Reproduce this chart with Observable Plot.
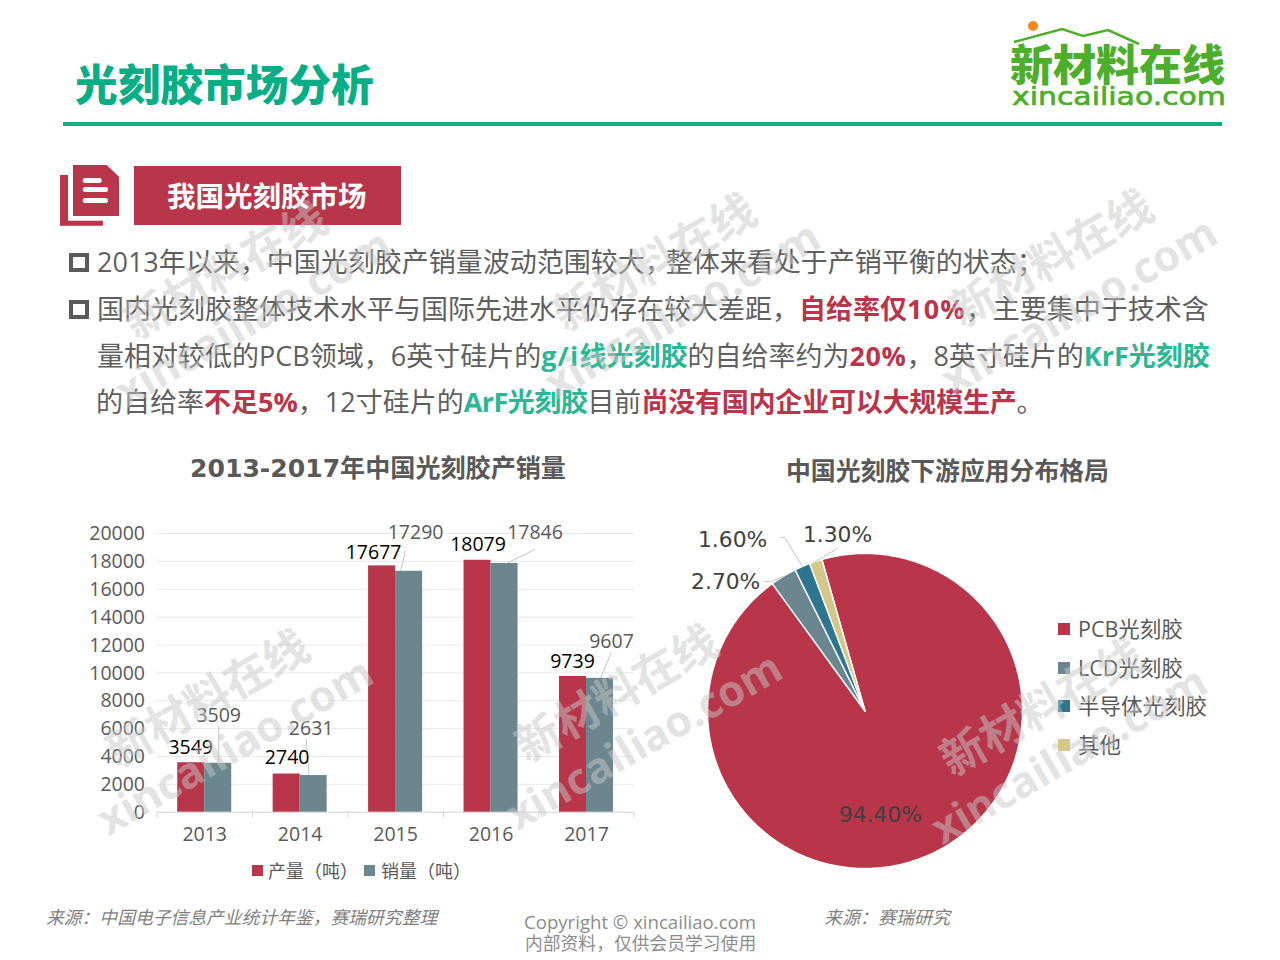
<!DOCTYPE html>
<html lang="zh">
<head>
<meta charset="utf-8">
<script src="https://cdn.jsdelivr.net/npm/d3@7"></script>
<script src="https://cdn.jsdelivr.net/npm/@observablehq/plot@0.6"></script>
<style>
html,body{margin:0;padding:0;background:#fff;}
#page{position:relative;width:1280px;height:960px;overflow:hidden;background:#fff;font-family:"Open Sans","Noto Sans CJK SC",sans-serif;color:#595959;}
.abs{position:absolute;white-space:nowrap;}
.line{position:absolute;left:97px;white-space:nowrap;font-size:27px;line-height:40px;color:#5f5f5f;}
.r{color:#b8354a;font-weight:700;}
.g{color:#2bb795;font-weight:700;}
.ls{letter-spacing:1.2px;}
.cc{letter-spacing:-6px;}
.bullet{position:absolute;left:69px;width:12px;height:11px;border:4px solid #595959;}
.sq{position:absolute;width:12px;height:12px;}
.wm{position:absolute;transform:translate(-50%,-50%) rotate(-30deg);text-align:center;white-space:nowrap;color:rgba(200,200,200,.5);font-weight:700;pointer-events:none;z-index:20;}
.wm div{line-height:57px;}
.wm .a{font-size:45px;font-family:"Noto Sans CJK SC";}
.wm .b{font-size:43px;font-family:"Open Sans";}
.plotbox{position:absolute;}
</style>
</head>
<body>
<div id="page">
  <div class="abs" style="left:75px;top:52px;font-size:42.7px;line-height:60px;font-weight:900;color:#05ae85;font-family:'Noto Sans CJK SC';">光刻胶市场分析</div>
  <div class="abs" style="left:63px;top:122px;width:1159px;height:3.5px;background:#0fae88;"></div>

  <svg class="abs" style="left:1000px;top:15px" width="240" height="100" viewBox="0 0 240 100">
    <circle cx="33" cy="11" r="5" fill="#f08a1d"/>
    <path d="M14 27 L62 14 L83 21 L108 15 L139 29" fill="none" stroke="#4cae2a" stroke-width="2.5"/>
    <text x="10" y="66" font-size="43" font-weight="900" fill="#4cae2a" font-family="Noto Sans CJK SC">新材料在线</text>
    <text x="12" y="90" font-size="25" font-weight="400" fill="#4cae2a" stroke="#4cae2a" stroke-width="0.7" font-family="DejaVu Sans" textLength="214" lengthAdjust="spacingAndGlyphs">xincailiao.com</text>
  </svg>

  <svg class="abs" style="left:58px;top:162px" width="66" height="66" viewBox="0 0 66 66">
    <path d="M15 3 H48.7 L61 14.7 V54 H15 Z" fill="#b8354a"/>
    <path d="M2 13 H10 V58.7 H45 V63.7 H2 Z" fill="#b8354a"/>
    <rect x="24.7" y="16" width="19" height="5" rx="2.5" fill="#fff"/>
    <rect x="24.7" y="25" width="25.3" height="5" rx="2.5" fill="#fff"/>
    <rect x="24.7" y="36" width="25.3" height="5" rx="2.5" fill="#fff"/>
  </svg>
  <div class="abs" style="left:134px;top:166px;width:267px;height:59px;background:#b8354a;"></div>
  <div class="abs" style="left:167px;top:174.5px;font-size:28.5px;line-height:40px;font-weight:700;color:#fff;font-family:'Noto Sans CJK SC';">我国光刻胶市场</div>

  <div class="bullet" style="top:253px"></div>
  <div class="bullet" style="top:300px"></div>
  <div class="line" style="top:242px">2013年以来，中国光刻胶产销量波动范围较大<span class="cc">，</span>整体来看处于产销平衡的状态；</div>
  <div class="line" style="top:289px">国内光刻胶整体技术水平与国际先进水平仍存在较大差距，<span class="r">自给率仅<span class="ls">10%</span></span>，主要集中于技术含</div>
  <div class="line" style="top:336px">量相对较低的PCB领域，6英寸硅片的<span class="g"><span class="ls">g/i</span>线光刻胶</span>的自给率约为<span class="r" style="letter-spacing:.6px">20%</span>，8英寸硅片的<span class="g">KrF光刻胶</span></div>
  <div class="line" style="top:382px;left:96px">的自给率<span class="r">不足5%</span>，12寸硅片的<span class="g" style="letter-spacing:-.5px">ArF光刻胶</span>目前<span class="r" style="letter-spacing:-.2px">尚没有国内企业可以大规模生产</span>。</div>

  <div class="abs" style="left:190px;top:451px;font-size:25.1px;line-height:36px;font-weight:700;font-family:'DejaVu Sans','Noto Sans CJK SC';">2013-2017年中国光刻胶产销量</div>
  <div class="abs" style="left:786px;top:451px;font-size:24.85px;line-height:36px;font-weight:700;font-family:'Noto Sans CJK SC';">中国光刻胶下游应用分布格局</div>

  <div id="bar" class="plotbox" style="left:60px;top:510px"></div>
  <div id="pie" class="plotbox" style="left:690px;top:520px"></div>

  <div class="sq" style="left:252px;top:865px;width:11px;height:11px;background:#b8354a"></div>
  <div class="abs" style="left:268px;top:858px;font-size:18px;line-height:26px;">产量（吨）</div>
  <div class="sq" style="left:364px;top:865px;width:11px;height:11px;background:#6b868f"></div>
  <div class="abs" style="left:381px;top:858px;font-size:18px;line-height:26px;">销量（吨）</div>

  <div id="pieLegend"></div>

  <div class="abs" style="left:46px;top:904px;font-size:17.8px;line-height:26px;font-style:italic;color:#7f7f7f;">来源：中国电子信息产业统计年鉴，赛瑞研究整理</div>
  <div class="abs" style="left:824px;top:904px;font-size:18px;line-height:26px;font-style:italic;color:#7f7f7f;">来源：赛瑞研究</div>
  <div class="abs" style="left:524px;top:909px;font-size:18.6px;line-height:26px;color:#8c8c8c;">Copyright © xincailiao.com</div>
  <div class="abs" style="left:525px;top:930px;font-size:17.8px;line-height:26px;color:#8c8c8c;">内部资料，仅供会员学习使用</div>
  <div id="marks"></div>
</div>
<script>
// ---- data ----
const years = [2013, 2014, 2015, 2016, 2017];
const production = [3549, 2740, 17677, 18079, 9739];
const sales = [3509, 2631, 17290, 17846, 9607];
const yTicks = d3.range(0, 20001, 2000);

const sliceNames = ["PCB光刻胶", "LCD光刻胶", "半导体光刻胶", "其他"];
const sliceValues = [94.4, 2.7, 1.6, 1.3];
const sliceLabels = ["94.40%", "2.70%", "1.60%", "1.30%"];
const sliceColors = ["#b8354a", "#6b868f", "#2e768f", "#d4c78a"];
const barColors = ["#b8354a", "#6b868f"];

// ---- label nudges, in screen pixels, away from the mark they belong to ----
const prodNudge = [[-14, -15], [-13, -16], [-22, -13], [-13, -16], [-14, -15]];
const salesNudge = [[14, -48], [11, -47], [20, -39], [44, -31], [25, -37]];
const salesLeaderBase = [[14, 0], [9, 0], [5, 0], [15, 0], [14, 0]];
const salesLeaderTip = [[14, -37], [6, -37], [10, -21], [44, -14], [25, -26]];
const pieLabelNudge = [[-53.5, -38], [-57.7, 6], [-69.7, -27], [21.8, -25.9]];
const pieLeaderPath = [null, [[-12.7, 5.5], [-19.7, 5.5]], [[-17.7, -29], [-21.7, -29]], [[21.5, -12.9]]];

// ---- bar chart ----
const barFont = {fontFamily: "'Open Sans','Noto Sans CJK SC',sans-serif", color: "#595959", background: "transparent", overflow: "visible"};
const xRange = [96.5, 573.7], yRange = [301.7, 23];
const pxYear = (xRange[1] - xRange[0]) / 5, pxVal = (yRange[0] - yRange[1]) / 20000;
const halfBar = 27 / pxYear;
const rows = years.map((year, i) => ({year, production: production[i], sales: sales[i], i}));
const bounds = d3.range(years[0] - 0.5, years[4] + 1);

const bar = Plot.plot({
  width: 620, height: 360, marginBottom: 58.3, marginLeft: 96.5,
  style: {...barFont, fontSize: "19.5px"},
  x: {domain: [2012.5, 2017.5], range: xRange},
  y: {domain: [0, 20000], range: yRange},
  marks: [
    Plot.ruleY(yTicks, {x1: 2012.5, x2: 2017.5, y: d => d, stroke: d => d === 0 ? "#d4d4d4" : "#e9e9e9", strokeWidth: 1}),
    Plot.ruleX(bounds, {x: d => d, y1: 0, y2: -6 / pxVal, stroke: "#d4d4d4"}),
    Plot.rectY(rows, {x1: d => d.year - halfBar, x2: d => d.year, y: "production", fill: barColors[0]}),
    Plot.rectY(rows, {x1: d => d.year, x2: d => d.year + halfBar, y: "sales", fill: barColors[1]}),
    Plot.link(rows, {
      x1: d => d.year + salesLeaderBase[d.i][0] / pxYear, y1: "sales",
      x2: d => d.year + salesLeaderTip[d.i][0] / pxYear, y2: d => d.sales - salesLeaderTip[d.i][1] / pxVal,
      stroke: "#b5b5b5", strokeWidth: 0.8
    }),
    Plot.text(rows, {
      x: d => d.year + prodNudge[d.i][0] / pxYear, y: d => d.production - prodNudge[d.i][1] / pxVal,
      text: d => String(d.production), fill: "#000"
    }),
    Plot.text(rows, {
      x: d => d.year + salesNudge[d.i][0] / pxYear, y: d => d.sales - salesNudge[d.i][1] / pxVal,
      text: d => String(d.sales), fill: "#595959"
    }),
    Plot.axisY({ticks: yTicks, tickSize: 0, tickPadding: 12, tickFormat: d => String(d), label: null, dy: 0.5}),
    Plot.axisX({ticks: years, tickSize: 0, tickPadding: 15, tickFormat: d => String(d), label: null})
  ]
});
document.getElementById("bar").append(bar);

// ---- pie chart ----
const rot = -15.9 * Math.PI / 180;
const pieArcs = d3.pie().sort(null).startAngle(rot).endAngle(rot + 2 * Math.PI)(sliceValues);
const polar = (a, r = 1) => [r * Math.sin(a), r * Math.cos(a)];
const polyRows = pieArcs.flatMap((arc, i) => {
  const n = Math.max(4, Math.ceil((arc.endAngle - arc.startAngle) * 90));
  const pts = [[0, 0]];
  for (let k = 0; k <= n; ++k) pts.push(polar(arc.startAngle + (arc.endAngle - arc.startAngle) * k / n));
  pts.push([0, 0]);
  return pts.map(([x, y]) => ({x, y, name: sliceNames[i]}));
});
const pieR = 157.5;
const rim = pieArcs.map(a => polar((a.startAngle + a.endAngle) / 2));
const nudged = (i, [dx, dy]) => ({x: rim[i][0] + dx / pieR, y: rim[i][1] - dy / pieR});
const labelRows = sliceLabels.map((text, i) => ({text, ...nudged(i, pieLabelNudge[i])}));
const leaderRows = pieLeaderPath.flatMap((path, i) => path ? [{x: rim[i][0], y: rim[i][1], i}, ...path.map(p => ({...nudged(i, p), i}))] : []);

const cx = 864.5 - 690, cy = 710.5 - 520;
const pie = Plot.plot({
  width: 350, height: 365,
  style: {...barFont, fontSize: "22px"},
  x: {domain: [-1, 1], range: [cx - pieR, cx + pieR], axis: null},
  y: {domain: [-1, 1], range: [cy + pieR, cy - pieR], axis: null},
  color: {domain: sliceNames, range: sliceColors},
  marks: [
    Plot.line(polyRows, {x: "x", y: "y", z: "name", fill: "name", stroke: "#fff", strokeWidth: 1.4}),
    Plot.line(leaderRows, {x: "x", y: "y", z: "i", stroke: "#b5b5b5", strokeWidth: 0.8}),
    Plot.text(labelRows, {x: "x", y: "y", text: "text", fill: "#404040", fontFamily: "DejaVu Sans", fontSize: 21.8})
  ]
});
document.getElementById("pie").append(pie);

// ---- pie legend ----
const legendEl = document.getElementById("pieLegend");
sliceNames.forEach((name, i) => {
  const top = 629 + i * 38.6;
  legendEl.insertAdjacentHTML("beforeend",
    `<div class="sq" style="left:1058px;top:${top - 6}px;background:${sliceColors[i]}"></div>` +
    `<div class="abs" style="left:1078px;top:${top - 15}px;font-size:21.5px;line-height:30px;">${name}</div>`);
});

// ---- watermarks ----
const wmCenters = [[238, 292], [667, 284], [1064, 280], [220, 720], [629, 715], [1054, 729]];
document.getElementById("marks").innerHTML = wmCenters.map(([x, y]) =>
  `<div class="wm" style="left:${x}px;top:${y}px"><div class="a">新材料在线</div><div class="b">xincailiao.com</div></div>`).join("");
</script>
</body>
</html>
